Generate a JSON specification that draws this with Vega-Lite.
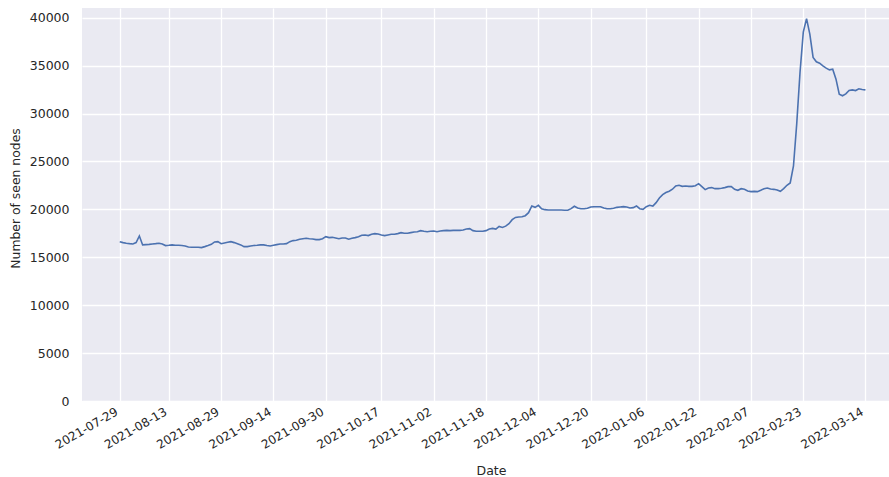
{
  "$schema": "https://vega.github.io/schema/vega-lite/v6.json",
  "width": 807,
  "height": 393,
  "autosize": {"type": "none"},
  "padding": {"left": 82, "top": 8, "right": 0, "bottom": 76},
  "background": "white",
  "config": {
    "view": {"fill": "#EAEAF2", "stroke": null},
    "font": "DejaVu Sans",
    "axis": {
      "labelFont": "DejaVu Sans",
      "titleFont": "DejaVu Sans",
      "labelColor": "#262626",
      "titleColor": "#262626",
      "titleFontWeight": "normal",
      "gridColor": "white",
      "gridWidth": 1.3,
      "gridOpacity": 1,
      "domain": false,
      "ticks": false
    }
  },
  "data": {
    "values": [
      {"date": "2021-07-29", "nodes": 16630}, {"date": "2021-07-30", "nodes": 16530}, {"date": "2021-07-31", "nodes": 16460},
      {"date": "2021-08-01", "nodes": 16420}, {"date": "2021-08-02", "nodes": 16390}, {"date": "2021-08-03", "nodes": 16530},
      {"date": "2021-08-04", "nodes": 17220}, {"date": "2021-08-05", "nodes": 16290}, {"date": "2021-08-06", "nodes": 16320},
      {"date": "2021-08-07", "nodes": 16350}, {"date": "2021-08-08", "nodes": 16390}, {"date": "2021-08-09", "nodes": 16420},
      {"date": "2021-08-10", "nodes": 16460}, {"date": "2021-08-11", "nodes": 16390}, {"date": "2021-08-12", "nodes": 16220},
      {"date": "2021-08-13", "nodes": 16250}, {"date": "2021-08-14", "nodes": 16290}, {"date": "2021-08-15", "nodes": 16250},
      {"date": "2021-08-16", "nodes": 16250}, {"date": "2021-08-17", "nodes": 16220}, {"date": "2021-08-18", "nodes": 16180},
      {"date": "2021-08-19", "nodes": 16080}, {"date": "2021-08-20", "nodes": 16040}, {"date": "2021-08-21", "nodes": 16040},
      {"date": "2021-08-22", "nodes": 16040}, {"date": "2021-08-23", "nodes": 16010}, {"date": "2021-08-24", "nodes": 16110},
      {"date": "2021-08-25", "nodes": 16220}, {"date": "2021-08-26", "nodes": 16350}, {"date": "2021-08-27", "nodes": 16600},
      {"date": "2021-08-28", "nodes": 16630}, {"date": "2021-08-29", "nodes": 16420}, {"date": "2021-08-30", "nodes": 16490},
      {"date": "2021-08-31", "nodes": 16560}, {"date": "2021-09-01", "nodes": 16630}, {"date": "2021-09-02", "nodes": 16530},
      {"date": "2021-09-03", "nodes": 16420}, {"date": "2021-09-04", "nodes": 16290}, {"date": "2021-09-05", "nodes": 16110},
      {"date": "2021-09-06", "nodes": 16110}, {"date": "2021-09-07", "nodes": 16180}, {"date": "2021-09-08", "nodes": 16220},
      {"date": "2021-09-09", "nodes": 16250}, {"date": "2021-09-10", "nodes": 16290}, {"date": "2021-09-11", "nodes": 16290},
      {"date": "2021-09-12", "nodes": 16220}, {"date": "2021-09-13", "nodes": 16180}, {"date": "2021-09-14", "nodes": 16250},
      {"date": "2021-09-15", "nodes": 16320}, {"date": "2021-09-16", "nodes": 16390}, {"date": "2021-09-17", "nodes": 16390},
      {"date": "2021-09-18", "nodes": 16420}, {"date": "2021-09-19", "nodes": 16630}, {"date": "2021-09-20", "nodes": 16740},
      {"date": "2021-09-21", "nodes": 16770}, {"date": "2021-09-22", "nodes": 16880}, {"date": "2021-09-23", "nodes": 16940},
      {"date": "2021-09-24", "nodes": 16980}, {"date": "2021-09-25", "nodes": 16940}, {"date": "2021-09-26", "nodes": 16910},
      {"date": "2021-09-27", "nodes": 16840}, {"date": "2021-09-28", "nodes": 16840}, {"date": "2021-09-29", "nodes": 16940},
      {"date": "2021-09-30", "nodes": 17150}, {"date": "2021-10-01", "nodes": 17050}, {"date": "2021-10-02", "nodes": 17080},
      {"date": "2021-10-03", "nodes": 17010}, {"date": "2021-10-04", "nodes": 16940}, {"date": "2021-10-05", "nodes": 17010},
      {"date": "2021-10-06", "nodes": 17010}, {"date": "2021-10-07", "nodes": 16880}, {"date": "2021-10-08", "nodes": 16980},
      {"date": "2021-10-09", "nodes": 17050}, {"date": "2021-10-10", "nodes": 17150}, {"date": "2021-10-11", "nodes": 17290},
      {"date": "2021-10-12", "nodes": 17330}, {"date": "2021-10-13", "nodes": 17260}, {"date": "2021-10-14", "nodes": 17400},
      {"date": "2021-10-15", "nodes": 17470}, {"date": "2021-10-16", "nodes": 17430}, {"date": "2021-10-17", "nodes": 17330},
      {"date": "2021-10-18", "nodes": 17260}, {"date": "2021-10-19", "nodes": 17330}, {"date": "2021-10-20", "nodes": 17400},
      {"date": "2021-10-21", "nodes": 17400}, {"date": "2021-10-22", "nodes": 17470}, {"date": "2021-10-23", "nodes": 17570},
      {"date": "2021-10-24", "nodes": 17500}, {"date": "2021-10-25", "nodes": 17500}, {"date": "2021-10-26", "nodes": 17570},
      {"date": "2021-10-27", "nodes": 17640}, {"date": "2021-10-28", "nodes": 17670}, {"date": "2021-10-29", "nodes": 17780},
      {"date": "2021-10-30", "nodes": 17710}, {"date": "2021-10-31", "nodes": 17670}, {"date": "2021-11-01", "nodes": 17710},
      {"date": "2021-11-02", "nodes": 17740}, {"date": "2021-11-03", "nodes": 17670}, {"date": "2021-11-04", "nodes": 17740},
      {"date": "2021-11-05", "nodes": 17780}, {"date": "2021-11-06", "nodes": 17810}, {"date": "2021-11-07", "nodes": 17780},
      {"date": "2021-11-08", "nodes": 17810}, {"date": "2021-11-09", "nodes": 17810}, {"date": "2021-11-10", "nodes": 17810},
      {"date": "2021-11-11", "nodes": 17850}, {"date": "2021-11-12", "nodes": 17950}, {"date": "2021-11-13", "nodes": 17990},
      {"date": "2021-11-14", "nodes": 17780}, {"date": "2021-11-15", "nodes": 17710}, {"date": "2021-11-16", "nodes": 17710},
      {"date": "2021-11-17", "nodes": 17710}, {"date": "2021-11-18", "nodes": 17780}, {"date": "2021-11-19", "nodes": 17950},
      {"date": "2021-11-20", "nodes": 18010}, {"date": "2021-11-21", "nodes": 17940}, {"date": "2021-11-22", "nodes": 18220},
      {"date": "2021-11-23", "nodes": 18110}, {"date": "2021-11-24", "nodes": 18250}, {"date": "2021-11-25", "nodes": 18500},
      {"date": "2021-11-26", "nodes": 18920}, {"date": "2021-11-27", "nodes": 19160}, {"date": "2021-11-28", "nodes": 19200},
      {"date": "2021-11-29", "nodes": 19230}, {"date": "2021-11-30", "nodes": 19340}, {"date": "2021-12-01", "nodes": 19650},
      {"date": "2021-12-02", "nodes": 20350}, {"date": "2021-12-03", "nodes": 20210}, {"date": "2021-12-04", "nodes": 20420},
      {"date": "2021-12-05", "nodes": 20070}, {"date": "2021-12-06", "nodes": 19970}, {"date": "2021-12-07", "nodes": 19930},
      {"date": "2021-12-08", "nodes": 19930}, {"date": "2021-12-09", "nodes": 19930}, {"date": "2021-12-10", "nodes": 19930},
      {"date": "2021-12-11", "nodes": 19930}, {"date": "2021-12-12", "nodes": 19900}, {"date": "2021-12-13", "nodes": 19900},
      {"date": "2021-12-14", "nodes": 20070}, {"date": "2021-12-15", "nodes": 20320}, {"date": "2021-12-16", "nodes": 20140},
      {"date": "2021-12-17", "nodes": 20070}, {"date": "2021-12-18", "nodes": 20070}, {"date": "2021-12-19", "nodes": 20110},
      {"date": "2021-12-20", "nodes": 20250}, {"date": "2021-12-21", "nodes": 20280}, {"date": "2021-12-22", "nodes": 20280},
      {"date": "2021-12-23", "nodes": 20280}, {"date": "2021-12-24", "nodes": 20140}, {"date": "2021-12-25", "nodes": 20070},
      {"date": "2021-12-26", "nodes": 20070}, {"date": "2021-12-27", "nodes": 20110}, {"date": "2021-12-28", "nodes": 20210},
      {"date": "2021-12-29", "nodes": 20250}, {"date": "2021-12-30", "nodes": 20280}, {"date": "2021-12-31", "nodes": 20250},
      {"date": "2022-01-01", "nodes": 20140}, {"date": "2022-01-02", "nodes": 20180}, {"date": "2022-01-03", "nodes": 20350},
      {"date": "2022-01-04", "nodes": 20070}, {"date": "2022-01-05", "nodes": 20000}, {"date": "2022-01-06", "nodes": 20280},
      {"date": "2022-01-07", "nodes": 20420}, {"date": "2022-01-08", "nodes": 20350}, {"date": "2022-01-09", "nodes": 20700},
      {"date": "2022-01-10", "nodes": 21190}, {"date": "2022-01-11", "nodes": 21540}, {"date": "2022-01-12", "nodes": 21750},
      {"date": "2022-01-13", "nodes": 21890}, {"date": "2022-01-14", "nodes": 22100}, {"date": "2022-01-15", "nodes": 22450},
      {"date": "2022-01-16", "nodes": 22520}, {"date": "2022-01-17", "nodes": 22400}, {"date": "2022-01-18", "nodes": 22440},
      {"date": "2022-01-19", "nodes": 22400}, {"date": "2022-01-20", "nodes": 22400}, {"date": "2022-01-21", "nodes": 22470},
      {"date": "2022-01-22", "nodes": 22680}, {"date": "2022-01-23", "nodes": 22370}, {"date": "2022-01-24", "nodes": 22060},
      {"date": "2022-01-25", "nodes": 22230}, {"date": "2022-01-26", "nodes": 22270}, {"date": "2022-01-27", "nodes": 22160},
      {"date": "2022-01-28", "nodes": 22160}, {"date": "2022-01-29", "nodes": 22200}, {"date": "2022-01-30", "nodes": 22270},
      {"date": "2022-01-31", "nodes": 22370}, {"date": "2022-02-01", "nodes": 22370}, {"date": "2022-02-02", "nodes": 22090},
      {"date": "2022-02-03", "nodes": 21990}, {"date": "2022-02-04", "nodes": 22160}, {"date": "2022-02-05", "nodes": 22090},
      {"date": "2022-02-06", "nodes": 21920}, {"date": "2022-02-07", "nodes": 21850}, {"date": "2022-02-08", "nodes": 21880},
      {"date": "2022-02-09", "nodes": 21850}, {"date": "2022-02-10", "nodes": 21990}, {"date": "2022-02-11", "nodes": 22160},
      {"date": "2022-02-12", "nodes": 22230}, {"date": "2022-02-13", "nodes": 22130}, {"date": "2022-02-14", "nodes": 22090},
      {"date": "2022-02-15", "nodes": 22020}, {"date": "2022-02-16", "nodes": 21880}, {"date": "2022-02-17", "nodes": 22160},
      {"date": "2022-02-18", "nodes": 22510}, {"date": "2022-02-19", "nodes": 22750}, {"date": "2022-02-20", "nodes": 24530},
      {"date": "2022-02-21", "nodes": 28950}, {"date": "2022-02-22", "nodes": 34280}, {"date": "2022-02-23", "nodes": 38500},
      {"date": "2022-02-24", "nodes": 39900}, {"date": "2022-02-25", "nodes": 38290}, {"date": "2022-02-26", "nodes": 35850},
      {"date": "2022-02-27", "nodes": 35400}, {"date": "2022-02-28", "nodes": 35260}, {"date": "2022-03-01", "nodes": 34980},
      {"date": "2022-03-02", "nodes": 34740}, {"date": "2022-03-03", "nodes": 34560}, {"date": "2022-03-04", "nodes": 34630},
      {"date": "2022-03-05", "nodes": 33590}, {"date": "2022-03-06", "nodes": 32020}, {"date": "2022-03-07", "nodes": 31850},
      {"date": "2022-03-08", "nodes": 32050}, {"date": "2022-03-09", "nodes": 32400}, {"date": "2022-03-10", "nodes": 32470},
      {"date": "2022-03-11", "nodes": 32400}, {"date": "2022-03-12", "nodes": 32580}, {"date": "2022-03-13", "nodes": 32510},
      {"date": "2022-03-14", "nodes": 32470}
    ]
  },
  "mark": {"type": "line", "color": "#4C72B0", "strokeWidth": 1.6, "clip": true},
  "encoding": {
    "x": {
      "field": "date",
      "type": "temporal",
      "title": "Date",
      "scale": {
        "type": "utc",
        "domain": [
          {"year": 2021, "month": 7, "date": 17, "hours": 11, "utc": true},
          {"year": 2022, "month": 3, "date": 21, "hours": 5, "utc": true}
        ]
      },
      "axis": {
        "values": [
          {"year": 2021, "month": 7, "date": 29, "utc": true},
          {"year": 2021, "month": 8, "date": 13, "utc": true},
          {"year": 2021, "month": 8, "date": 29, "utc": true},
          {"year": 2021, "month": 9, "date": 14, "utc": true},
          {"year": 2021, "month": 9, "date": 30, "utc": true},
          {"year": 2021, "month": 10, "date": 17, "utc": true},
          {"year": 2021, "month": 11, "date": 2, "utc": true},
          {"year": 2021, "month": 11, "date": 18, "utc": true},
          {"year": 2021, "month": 12, "date": 4, "utc": true},
          {"year": 2021, "month": 12, "date": 20, "utc": true},
          {"year": 2022, "month": 1, "date": 6, "utc": true},
          {"year": 2022, "month": 1, "date": 22, "utc": true},
          {"year": 2022, "month": 2, "date": 7, "utc": true},
          {"year": 2022, "month": 2, "date": 23, "utc": true},
          {"year": 2022, "month": 3, "date": 14, "utc": true}
        ],
        "labelExpr": "utcFormat(datum.value, '%Y-%m-%d')",
        "labelAngle": -30,
        "labelAlign": "right",
        "labelBaseline": "top",
        "labelPadding": 5,
        "labelOffset": -6,
        "labelFontSize": 12,
        "labelOverlap": false,
        "labelFlush": false,
        "titleFontSize": 12.5,
        "titleX": 409,
        "titleY": 73,
        "titleBaseline": "alphabetic"
      }
    },
    "y": {
      "field": "nodes",
      "type": "quantitative",
      "title": "Number of seen nodes",
      "scale": {"domain": [0, 41014], "nice": false, "zero": true},
      "axis": {
        "values": [0, 5000, 10000, 15000, 20000, 25000, 30000, 35000, 40000],
        "format": "d",
        "labelFontSize": 12.5,
        "labelPadding": 13,
        "titleFontSize": 12.4,
        "titlePadding": 7,
        "titleY": 190
      }
    }
  }
}
